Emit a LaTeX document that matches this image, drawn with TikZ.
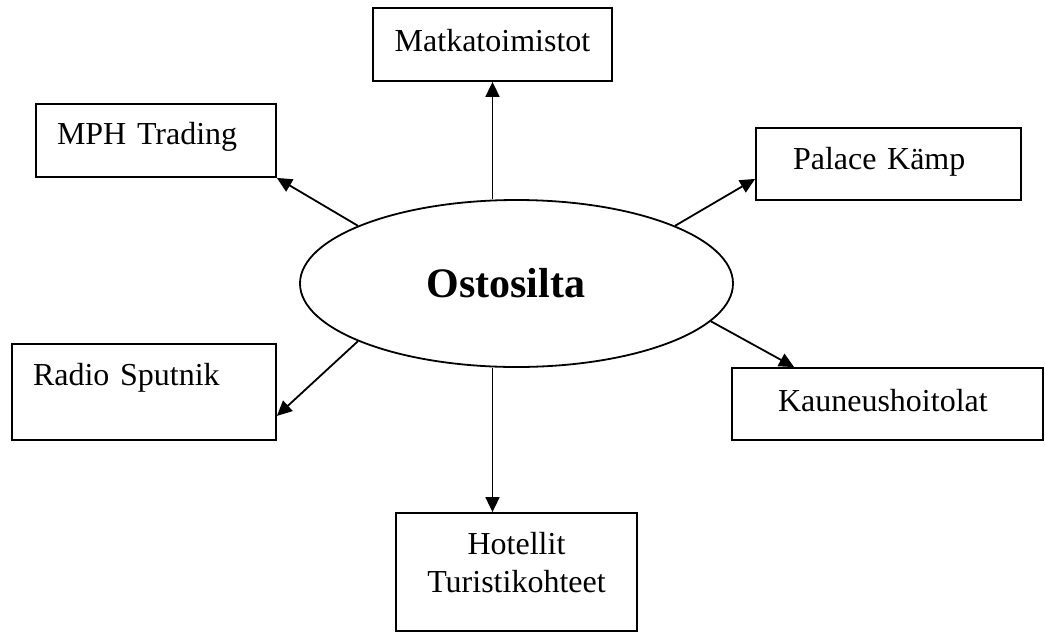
\documentclass[tikz,border=0pt]{standalone}
\usepackage{fontspec}
\setmainfont{Liberation Serif}
\usetikzlibrary{arrows.meta,shapes.geometric}

\begin{document}
\begin{tikzpicture}[x=0.5pt,y=-0.5pt,->,>={Triangle[length=7.5pt,width=7pt]},line width=0.9pt,
  box/.style={draw,rectangle,inner ysep=0pt,font=\fontsize{16}{19}\selectfont},
  tx/.style={text height=11pt,text depth=#1},
  hub/.style={draw,ellipse,inner sep=0pt,minimum width=216.5pt,minimum height=83.5pt,
    text width=90pt,align=left,font=\fontsize{21}{25}\selectfont\bfseries}]
  \useasboundingbox (0,0) rectangle (1045,633);
  \node[hub] (O) at (516.5,283.5) {Ostosilta};
  \node[box,tx=3.9pt,minimum width=119.5pt,minimum height=36.5pt] (M) at (492.5,44.5) {Matkatoimistot};
  \node[box,tx=6.9pt,minimum height=36.5pt,text width=99pt,align=left,inner xsep=10.5pt] (T) at (156,140.5) {MPH Trading};
  \node[box,tx=5.4pt,minimum height=36pt,text width=95.5pt,align=left,inner xsep=18.5pt] (P) at (888.5,164) {Palace Kämp};
  \node[box,tx=17.4pt,minimum height=48pt,text width=111pt,align=left,inner xsep=10.5pt] (R) at (144,392) {Radio Sputnik};
  \node[box,tx=3.4pt,minimum height=36pt,text width=109.5pt,align=left,inner xsep=23pt] (K) at (887.5,404) {Kauneushoitolat};
  \node[box,minimum width=120.5pt,minimum height=59pt,align=center,text depth=10pt] (H) at (516.5,572) {Hotellit\\Turistikohteet};

  \path (O.north -| M.south) edge (M.south)
        (O.south -| M.south) edge (H.north -| M.south)
        (O.160) edge (T.south east)
        (O.20) edge ([yshift=11pt]P.south west)
        (O.200) edge ([yshift=12.5pt]R.south east)
        (O.-11) edge ([xshift=31.5pt]K.north west);
\end{tikzpicture}
\end{document}
